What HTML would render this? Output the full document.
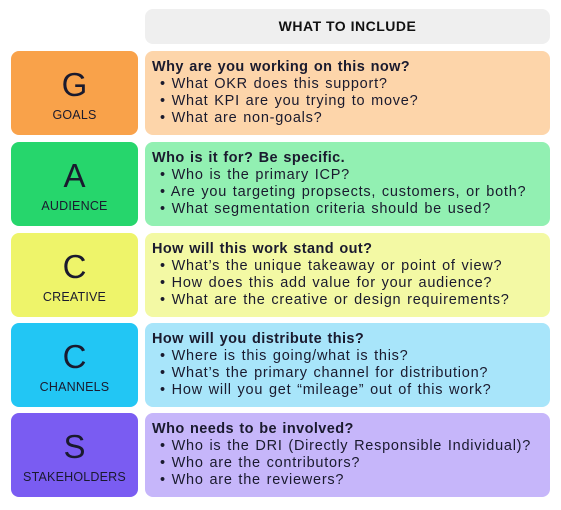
<!DOCTYPE html>
<html><head><meta charset="utf-8"><style>
*{margin:0;padding:0;box-sizing:border-box}
body{width:561px;height:510px;background:#fff;font-family:"Liberation Sans",sans-serif;position:relative;color:#1a1a2e;overflow:hidden}
.b{position:absolute;border-radius:8px}
.hd{left:145px;top:9px;width:405px;height:35px;background:#efefef;text-align:center;font-weight:bold;font-size:14px;line-height:35px;color:#111;letter-spacing:0.5px}
.l{left:11px;width:127px;height:84px;text-align:center}
.l .big{font-size:33px;line-height:34px;margin-top:17px}
.l .lab{font-size:12.5px;margin-top:6px;letter-spacing:0.2px}
.r{left:145px;width:405px;height:84px;padding:8px 0 0 7px;font-size:14.5px;line-height:17px;letter-spacing:0.75px;word-spacing:1px}
.r .t{font-weight:bold;letter-spacing:0.4px}
.r .i{padding-left:8px}
</style></head><body>
<div class="b hd">WHAT TO INCLUDE</div>

<div class="b l" style="top:51px;background:#f9a24a"><div class="big">G</div><div class="lab">GOALS</div></div>
<div class="b r" style="top:51px;background:#fdd5aa"><div class="t">Why are you working on this now?</div><div class="i">• What OKR does this support?</div><div class="i">• What KPI are you trying to move?</div><div class="i">• What are non-goals?</div></div>

<div class="b l" style="top:142px;background:#26d66c"><div class="big">A</div><div class="lab">AUDIENCE</div></div>
<div class="b r" style="top:142px;background:#92f0b2"><div class="t">Who is it for? Be specific.</div><div class="i">• Who is the primary ICP?</div><div class="i">• Are you targeting propsects, customers, or both?</div><div class="i">• What segmentation criteria should be used?</div></div>

<div class="b l" style="top:233px;background:#eef46a"><div class="big">C</div><div class="lab">CREATIVE</div></div>
<div class="b r" style="top:233px;background:#f3f9a4"><div class="t">How will this work stand out?</div><div class="i">• What’s the unique takeaway or point of view?</div><div class="i">• How does this add value for your audience?</div><div class="i">• What are the creative or design requirements?</div></div>

<div class="b l" style="top:323px;background:#22c6f4"><div class="big">C</div><div class="lab">CHANNELS</div></div>
<div class="b r" style="top:323px;background:#a8e5fa"><div class="t">How will you distribute this?</div><div class="i">• Where is this going/what is this?</div><div class="i">• What’s the primary channel for distribution?</div><div class="i">• How will you get “mileage” out of this work?</div></div>

<div class="b l" style="top:413px;background:#7a5cf2"><div class="big">S</div><div class="lab">STAKEHOLDERS</div></div>
<div class="b r" style="top:413px;background:#c6b6fa"><div class="t">Who needs to be involved?</div><div class="i">• Who is the DRI (Directly Responsible Individual)?</div><div class="i">• Who are the contributors?</div><div class="i">• Who are the reviewers?</div></div>
</body></html>
